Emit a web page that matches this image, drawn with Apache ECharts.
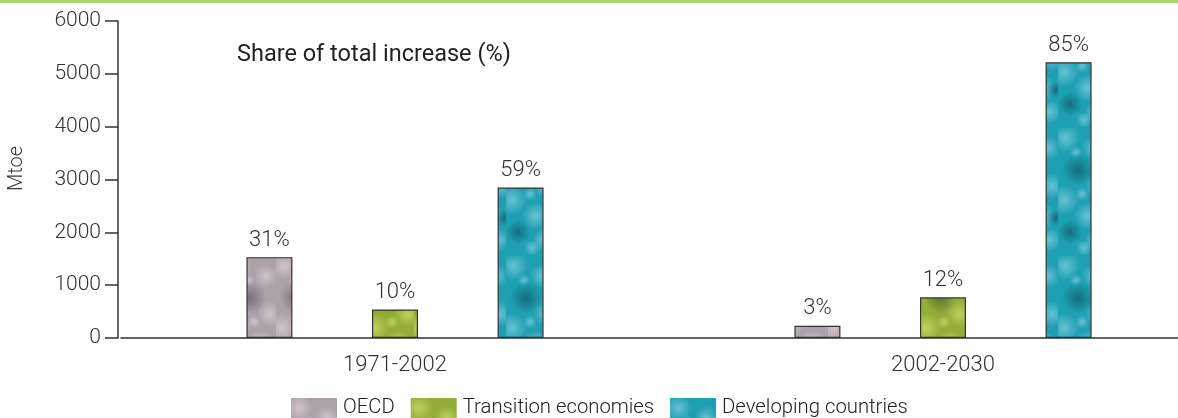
<!DOCTYPE html>
<html>
<head>
<meta charset="utf-8">
<script src="https://cdn.jsdelivr.net/npm/echarts@6/dist/echarts.min.js"></script>
<style>html,body{margin:0;padding:0;background:#fff;}#c{width:1178px;height:418px;}</style>
</head>
<body>
<div id="c"></div>
<script>
const categories = ['1971-2002', '2002-2030'];
const seriesNames = ['OECD', 'Transition economies', 'Developing countries'];
const oecd = [1530, 230];
const transition = [540, 770];
const developing = [2850, 5220];
const oecdShare = ['31%', '3%'];
const transitionShare = ['10%', '12%'];
const developingShare = ['59%', '85%'];
const yTicks = [0, 1000, 2000, 3000, 4000, 5000, 6000];

const FONT = 'Roboto';
const chart = echarts.init(document.getElementById('c'));

// texture tiles (fixed blob layout, purely decorative)
const blobs = [
  [8, 10, 14, 'l'], [36, 20, 12, 'l'], [20, 42, 16, 'd'], [40, 58, 13, 'l'],
  [6, 72, 15, 'l'], [30, 88, 14, 'l'], [12, 104, 12, 'd'], [38, 112, 12, 'l'],
  [24, 66, 7, 'l'], [18, 24, 6, 'l'], [44, 90, 9, 'd'], [26, 120, 8, 'l']
];
function makePattern(base, light, dark) {
  const c = document.createElement('canvas');
  c.width = 46; c.height = 128;
  const g = c.getContext('2d');
  g.fillStyle = base; g.fillRect(0, 0, 46, 128);
  blobs.forEach(([x, y, r, t]) => {
    const col = t === 'l' ? light : dark;
    const rg = g.createRadialGradient(x, y, 0, x, y, r);
    rg.addColorStop(0, col);
    rg.addColorStop(1, col.replace(/[\d.]+\)$/, '0)'));
    g.fillStyle = rg;
    g.beginPath(); g.arc(x, y, r, 0, Math.PI * 2); g.fill();
  });
  return {image: c, repeat: 'repeat'};
}
const fills = [
  makePattern('#aca1a8', 'rgba(214,204,210,0.8)', 'rgba(60,52,60,0.45)'),
  makePattern('#94ad38', 'rgba(206,220,110,0.75)', 'rgba(45,62,18,0.5)'),
  makePattern('#1f9fb2', 'rgba(130,210,224,0.7)', 'rgba(8,64,76,0.5)')
];
const values = [oecd, transition, developing];
const shares = [oecdShare, transitionShare, developingShare];

chart.setOption({
  animation: false,
  textStyle: {fontFamily: FONT},
  grid: {left: 121, top: 21, bottom: 80, width: 1096, containLabel: false, outerBoundsMode: 'none'},
  legend: {
    top: 398, left: 291, icon: 'rect', padding: 0,
    itemWidth: 46, itemHeight: 20, itemGap: 16,
    itemStyle: {borderWidth: 0},
    textStyle: {fontSize: 20.3, color: '#222', fontFamily: FONT, fontWeight: 300, padding: [0, 0, 0, 1]},
    data: seriesNames
  },
  graphic: [
    {type: 'rect', left: 0, top: 0, shape: {width: 1178, height: 3}, style: {fill: '#a9d46a'}},
    {type: 'text', left: 237, top: 43, style: {text: 'Share of total increase (%)', fontSize: 23.5, fill: '#222', fontFamily: FONT}},
    {type: 'text', x: 7, y: 191, rotation: Math.PI / 2, style: {text: 'Mtoe', fontSize: 20, fill: '#333', fontFamily: FONT, fontWeight: 300}}
  ],
  xAxis: {
    type: 'category', data: categories,
    axisLine: {lineStyle: {color: '#333', width: 1.5}},
    axisTick: {show: false},
    axisLabel: {fontSize: 22, color: '#333', margin: 16, fontWeight: 300}
  },
  yAxis: {
    type: 'value', min: 0, max: 6000, interval: 1000, offset: 3,
    axisLine: {show: true, lineStyle: {color: '#333', width: 1.5}},
    axisTick: {show: true, length: 13, lineStyle: {color: '#333', width: 1.5}},
    axisLabel: {fontSize: 21, color: '#333', margin: 17, fontWeight: 300,
      formatter: v => yTicks.includes(v) ? String(v) : ''},
    splitLine: {show: false}
  },
  series: seriesNames.map((n, i) => ({
    name: n, type: 'bar', data: values[i],
    barWidth: 46, barGap: '173%',
    itemStyle: {color: fills[i], borderColor: '#333', borderWidth: 1.2},
    label: {show: true, position: 'top', distance: 6, fontSize: 22, color: '#333', fontWeight: 300,
      formatter: p => shares[i][p.dataIndex]}
  }))
});
</script>
</body>
</html>
